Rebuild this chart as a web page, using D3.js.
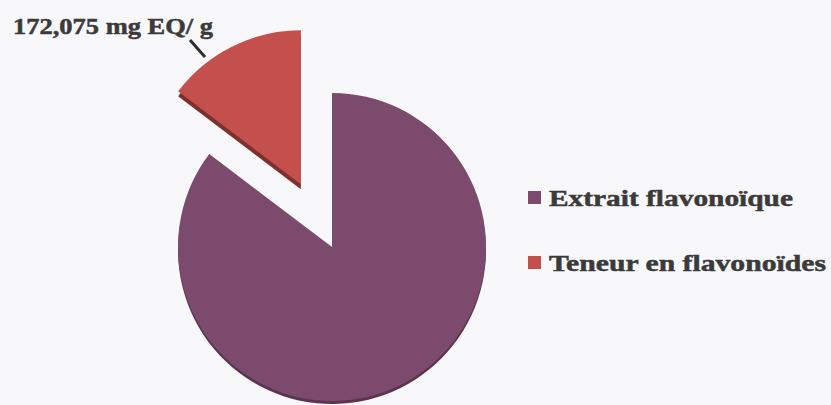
<!DOCTYPE html>
<html>
<head>
<meta charset="utf-8">
<script src="https://cdn.jsdelivr.net/npm/d3@7"></script>
<style>
  html, body { margin: 0; padding: 0; background: #f8f7f9; }
  svg { display: block; }
  .serif { font-family: "Liberation Serif", "Times New Roman", Times, serif; font-weight: bold; }
</style>
</head>
<body>
<svg id="chart" width="831" height="405"></svg>
<script>
// Flavonoid extract vs. flavonoid content (mg EQ / g)
const categories = ["Extrait flavonoïque", "Teneur en flavonoïdes"];
const values = [1000, 172.075];
const colors = ["#7c4a6d", "#c3504c"];
const sideColors = ["#5c344f", "#7e302d"];
const explode = [0, 70];
const unit = " mg EQ/ g";

const W = 831, H = 405;
const cx = 332, cy = 247, R = 154;

const svg = d3.select("#chart");
svg.append("rect").attr("width", W).attr("height", H).attr("fill", "#f8f7f9");

const fr = d3.formatLocale({ decimal: ",", thousands: " ", grouping: [3], currency: ["", ""] });
const fmt = fr.format(".3f");

const pie = d3.pie().sort(null).value(d => d)(values);
const arc = d3.arc().innerRadius(0).outerRadius(R);

const g = svg.append("g").attr("transform", `translate(${cx},${cy})`);

const slices = g.selectAll("g.slice").data(pie).join("g")
  .attr("class", "slice")
  .attr("transform", (d, i) => {
    const mid = (d.startAngle + d.endAngle) / 2;
    return `translate(${Math.sin(mid) * explode[i]},${-Math.cos(mid) * explode[i]})`;
  });

// thin side wall under each slice for the tilted look
slices.append("path")
  .attr("d", arc)
  .attr("transform", (d, i) => `translate(0,${i === 1 ? 5 : 3})`)
  .attr("fill", (d, i) => sideColors[i]);

slices.append("path")
  .attr("d", arc)
  .attr("fill", (d, i) => colors[i]);

// value label with leader line for the content slice
svg.append("line")
  .attr("x1", 190).attr("y1", 40).attr("x2", 205).attr("y2", 57)
  .attr("stroke", "#2e2e2e").attr("stroke-width", 3);

svg.append("text")
  .attr("class", "serif")
  .attr("x", 13).attr("y", 34)
  .attr("font-size", 23)
  .attr("fill", "#3a3a3a").attr("stroke", "#3a3a3a").attr("stroke-width", 0.5)
  .attr("textLength", 200).attr("lengthAdjust", "spacingAndGlyphs")
  .text(fmt(values[1]) + unit);

// legend
const legendY = [198, 263];
const legendW = [244, 277];
const lg = svg.append("g");
categories.forEach((c, i) => {
  lg.append("rect")
    .attr("x", 528).attr("y", legendY[i] - 7)
    .attr("width", 13).attr("height", 13)
    .attr("fill", colors[i]);
  lg.append("text")
    .attr("class", "serif")
    .attr("x", 549).attr("y", legendY[i] + 8)
    .attr("font-size", 24)
    .attr("fill", "#3a3a3a").attr("stroke", "#3a3a3a").attr("stroke-width", 0.5)
    .attr("textLength", legendW[i]).attr("lengthAdjust", "spacingAndGlyphs")
    .text(c);
});
</script>
</body>
</html>
